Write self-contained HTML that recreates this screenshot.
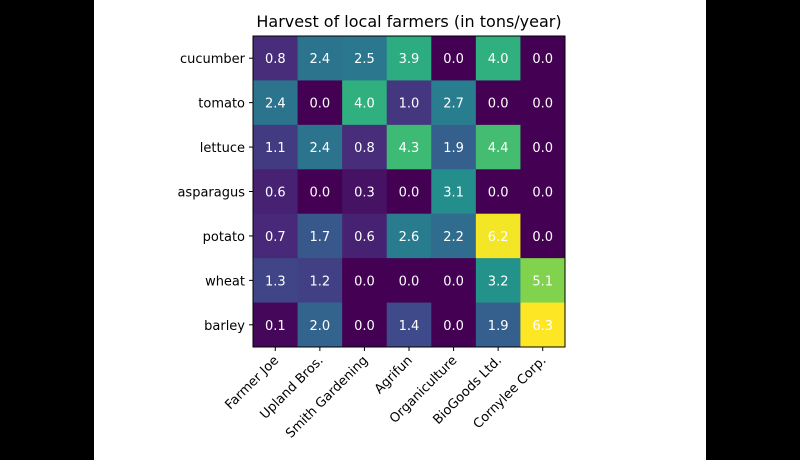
<!DOCTYPE html>
<html><head><meta charset="utf-8"><style>
body{margin:0;background:#fff;}
svg{display:block;font-family:"DejaVu Sans","Liberation Sans",sans-serif;}
</style></head><body>
<svg id="c" width="800" height="460">
<rect x="0" y="0" width="94" height="460" fill="#000"/>
<rect x="706" y="0" width="94" height="460" fill="#000"/>
<text x="409" y="27" font-size="16" text-anchor="middle" fill="#000">Harvest of local farmers (in tons/year)</text>
<g id="cells"></g>
<rect x="253" y="36" width="312" height="311" fill="none" stroke="#000" stroke-width="1"/>
<g id="axes"></g>
</svg>
<script>
const vegetables=["cucumber","tomato","lettuce","asparagus","potato","wheat","barley"];
const farmers=["Farmer Joe","Upland Bros.","Smith Gardening","Agrifun","Organiculture","BioGoods Ltd.","Cornylee Corp."];
const harvest=[
[0.8,2.4,2.5,3.9,0.0,4.0,0.0],
[2.4,0.0,4.0,1.0,2.7,0.0,0.0],
[1.1,2.4,0.8,4.3,1.9,4.4,0.0],
[0.6,0.0,0.3,0.0,3.1,0.0,0.0],
[0.7,1.7,0.6,2.6,2.2,6.2,0.0],
[1.3,1.2,0.0,0.0,0.0,3.2,5.1],
[0.1,2.0,0.0,1.4,0.0,1.9,6.3]];
const X0=253,Y0=36,W=312,H=311;
const cw=W/farmers.length,ch=H/vegetables.length;
const xPos=i=>X0+i*cw, yPos=j=>Y0+j*ch;
const vstops=[[68,1,84],[72,40,120],[62,74,137],[49,104,142],[38,130,142],[31,158,137],[53,183,121],[109,205,89],[180,222,44],[253,231,37]];
let vmax=0;harvest.forEach(r=>r.forEach(v=>{if(v>vmax)vmax=v;}));
function viridis(t){t=Math.max(0,Math.min(1,t));const p=t*(vstops.length-1);const i=Math.min(Math.floor(p),vstops.length-2);const f=p-i;const a=vstops[i],b=vstops[i+1];return `rgb(${Math.round(a[0]+(b[0]-a[0])*f)},${Math.round(a[1]+(b[1]-a[1])*f)},${Math.round(a[2]+(b[2]-a[2])*f)})`;}
const NS="http://www.w3.org/2000/svg";
const cells=document.getElementById('cells'),axes=document.getElementById('axes');
function mk(tag,attrs,parent){const e=document.createElementNS(NS,tag);for(const k in attrs)e.setAttribute(k,attrs[k]);parent.appendChild(e);return e;}
harvest.forEach((row,j)=>row.forEach((v,i)=>{
 const r=mk('rect',{x:xPos(i),y:yPos(j),width:cw+0.5,height:ch+0.5,fill:viridis(v/vmax)},cells);
 
 
 const t=mk('text',{x:xPos(i)+cw/2,y:yPos(j)+ch/2+5,'font-size':13,'text-anchor':'middle',fill:'#fff'},cells);
 t.textContent=v.toFixed(1);
 
 
}));
vegetables.forEach((v,j)=>{
 const y=yPos(j)+ch/2;
 mk('line',{x1:X0-4,x2:X0,y1:y,y2:y,stroke:'#000'},axes);
 const t=mk('text',{x:X0-8,y:y+5,'font-size':13,'text-anchor':'end',fill:'#000'},axes);
 t.textContent=v;
 
 
});
farmers.forEach((f,i)=>{
 const x=xPos(i)+cw/2,y=Y0+H;
 mk('line',{x1:x,x2:x,y1:y,y2:y+4,stroke:'#000'},axes);
 const t=mk('text',{x:x+4,y:y+14,'font-size':13,'text-anchor':'end',fill:'#000',transform:`rotate(-45 ${x+4} ${y+14})`},axes);
 t.textContent=f;
 
 
});
</script>
</body></html>
